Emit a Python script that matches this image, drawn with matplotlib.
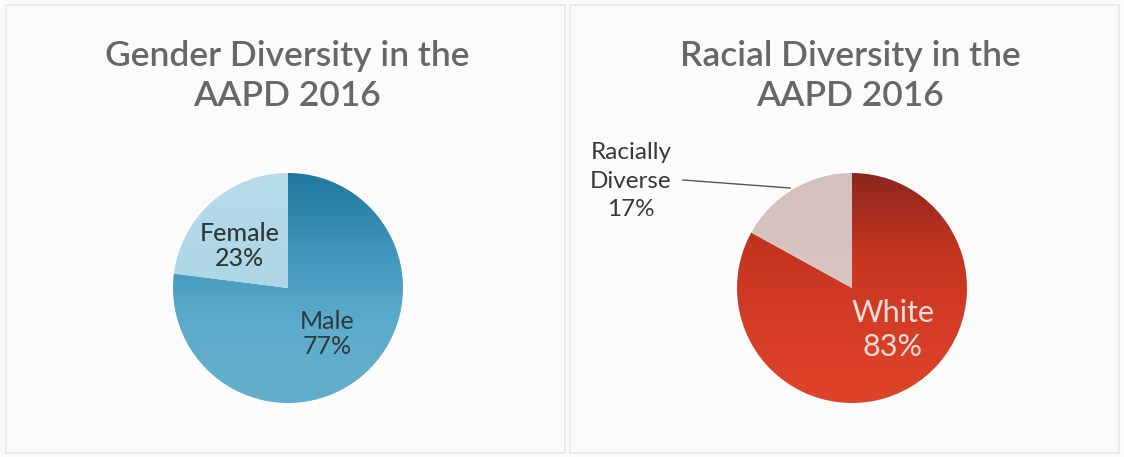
import matplotlib.pyplot as plt
import numpy as np
from matplotlib.colors import LinearSegmentedColormap
from matplotlib.patches import Rectangle

plt.rcParams['font.family'] = ['Lato', 'DejaVu Sans']

gender_labels = ['Female', 'Male']
gender_values = [23, 77]
race_labels = ['Racially\nDiverse', 'White']
race_values = [17, 83]

W, H = 1124, 457
fig = plt.figure(figsize=(W / 100, H / 100), dpi=100)
fig.patch.set_facecolor('#fbfbfb')
ax = fig.add_axes([0, 0, 1, 1])
ax.set_xlim(0, W)
ax.set_ylim(0, H)
ax.set_aspect('equal')
ax.axis('off')

# faint panel frames
for x0, x1 in [(6, 565), (570, 1119)]:
    ax.add_patch(Rectangle((x0, 4), x1 - x0, H - 9, fill=False,
                           edgecolor='#e8e8e8', lw=1.2))


def gradient_fill(wedge, center, r, colors):
    cmap = LinearSegmentedColormap.from_list('g', colors)
    grad = np.linspace(0, 1, 256).reshape(-1, 1)
    im = ax.imshow(grad, cmap=cmap, origin='upper', aspect='auto',
                   extent=(center[0] - r, center[0] + r, center[1] - r, center[1] + r),
                   zorder=wedge.get_zorder())
    im.set_clip_path(wedge)
    wedge.set_facecolor('none')


r = 115
c1 = (288, H - 288)
w1, _ = ax.pie(gender_values, startangle=90, counterclock=True, radius=r, center=c1,
               colors=['#a9d3e4', '#5aa9c9'],
               wedgeprops=dict(edgecolor='white', linewidth=2.5), frame=True)
gradient_fill(w1[1], c1, r, ['#1f789f', '#3f95bb', '#5eaccb', '#62afcd'])
gradient_fill(w1[0], c1, r, ['#b6dbe9', '#a7d1e3'])

c2 = (852, H - 288)
w2, _ = ax.pie(race_values, startangle=90, counterclock=True, radius=r, center=c2,
               colors=['#d7c3bf', '#d63d26'],
               wedgeprops=dict(edgecolor='white', linewidth=2.5), frame=True)
gradient_fill(w2[1], c2, r, ['#8a271e', '#c4351f', '#d63d26', '#de4429'])
gradient_fill(w2[0], c2, r, ['#d4c0bc', '#dccbc7'])
ax.set_xlim(0, W)
ax.set_ylim(0, H)
ax.axis('off')

title_kw = dict(ha='center', va='center', fontsize=25.5, color='#676767',
                fontweight='semibold', linespacing=1.3)
ax.text(287, H - 76, 'Gender Diversity in the\nAAPD 2016', **title_kw)
ax.text(850, H - 76, 'Racial Diversity in the\nAAPD 2016', **title_kw)

ax.text(240, H - 246, f'{gender_labels[0]}\n{gender_values[0]}%', ha='center', va='center',
        fontsize=18, color='#2e3a3e', fontweight='medium', linespacing=1.15)
ax.text(327, H - 334, f'{gender_labels[1]}\n{gender_values[1]}%', ha='center', va='center',
        fontsize=18, color='#2e3a3e', linespacing=1.15)

ax.text(893, H - 330, f'{race_labels[1]}\n{race_values[1]}%', ha='center', va='center',
        fontsize=22, color='#f6ddd6', linespacing=1.25)
ax.text(631, H - 181, f'{race_labels[0]}\n{race_values[0]}%', ha='center', va='center',
        fontsize=17.5, color='#383838', linespacing=1.45)
ax.plot([683, 790], [H - 180, H - 188], color='#555555', lw=1)

fig.savefig('out.png', dpi=100, facecolor=fig.get_facecolor())
